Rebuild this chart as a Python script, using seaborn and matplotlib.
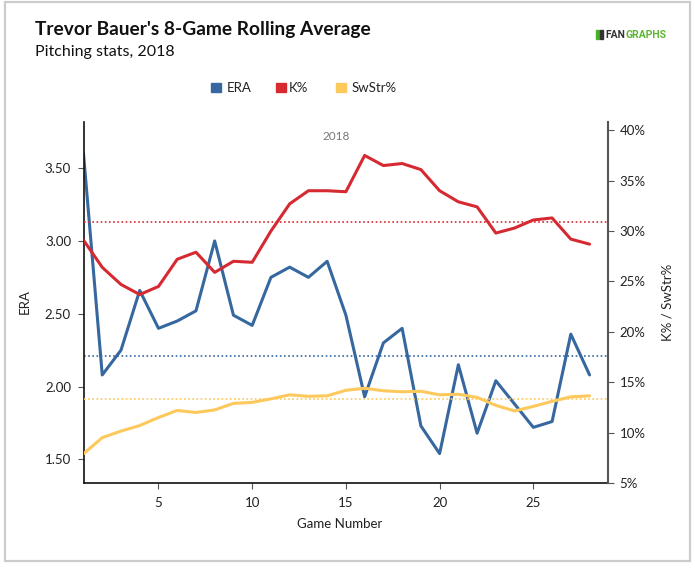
import matplotlib
matplotlib.use("Agg")
import matplotlib.pyplot as plt
import seaborn as sns
import pandas as pd
from matplotlib.patches import Rectangle

games = list(range(1, 29))
era = [3.60, 2.08, 2.25, 2.66, 2.40, 2.45, 2.52, 3.00, 2.49, 2.42,
       2.75, 2.82, 2.75, 2.86, 2.49, 1.93, 2.30, 2.40, 1.73, 1.54,
       2.15, 1.68, 2.04, 1.88, 1.72, 1.76, 2.36, 2.08]
k_pct = [29.1, 26.4, 24.7, 23.7, 24.5, 27.2, 27.9, 25.9, 27.0, 26.9,
         30.0, 32.7, 34.0, 34.0, 33.9, 37.5, 36.5, 36.7, 36.1, 34.0,
         32.9, 32.4, 29.8, 30.3, 31.1, 31.3, 29.2, 28.7]
swstr_pct = [7.9, 9.5, 10.15, 10.7, 11.5, 12.2, 12.0, 12.25, 12.9, 13.0,
             13.35, 13.75, 13.6, 13.65, 14.2, 14.4, 14.15, 14.05, 14.1, 13.75,
             13.8, 13.5, 12.7, 12.15, 12.6, 13.1, 13.55, 13.65]
era_avg = 2.21
k_avg = 30.9
swstr_avg = 13.3
era_ticks = [1.50, 2.00, 2.50, 3.00, 3.50]
pct_ticks = [5, 10, 15, 20, 25, 30, 35, 40]
x_ticks = [5, 10, 15, 20, 25]

BLUE = "#36689f"
RED = "#d62a32"
YEL = "#fdc95c"

sns.set_theme(style="white")
plt.rcParams["font.family"] = ["Lato", "DejaVu Sans"]

df = pd.DataFrame({"game": games, "ERA": era, "K%": k_pct, "SwStr%": swstr_pct})

fig = plt.figure(figsize=(6.95, 5.69), dpi=100)
ax = fig.add_axes([83.5/695, 1-483/569, (608.3-83.5)/695, (483-121.5)/569])
ax2 = ax.twinx()

sns.lineplot(data=df, x="game", y="ERA", ax=ax, color=BLUE, lw=2.2)
sns.lineplot(data=df, x="game", y="K%", ax=ax2, color=RED, lw=2.2)
sns.lineplot(data=df, x="game", y="SwStr%", ax=ax2, color=YEL, lw=2.2)
ax.axhline(era_avg, color=BLUE, ls=(0, (1, 1.5)), lw=1.2)
ax2.axhline(k_avg, color=RED, ls=(0, (1, 1.5)), lw=1.2)
ax2.axhline(swstr_avg, color=YEL, ls=(0, (1, 1.5)), lw=1.2)

ax.set_xlim(1, 29)
ax.set_ylim(1.338, 3.82)
ax2.set_ylim(5, 40.87)
ax.set_xticks(x_ticks)
ax.set_yticks(era_ticks)
ax.set_yticklabels([f"{v:.2f}" for v in era_ticks])
ax2.set_yticks(pct_ticks)
ax2.set_yticklabels([f"{v}%" for v in pct_ticks])
ax.set_xlabel("")
ax.set_ylabel("")
ax2.set_ylabel("")

for a in (ax, ax2):
    a.spines["top"].set_visible(False)
    a.grid(False)
ax.spines["left"].set_color("#111")
ax.spines["bottom"].set_color("#111")
ax.spines["left"].set_linewidth(1.2)
ax.spines["bottom"].set_linewidth(1.2)
ax.spines["right"].set_visible(False)
ax2.spines["left"].set_visible(False)
ax2.spines["bottom"].set_visible(False)
ax2.spines["right"].set_color("#555")
ax2.spines["right"].set_linewidth(1.5)
ax.tick_params(axis="both", direction="out", length=4, width=0.8, color="#555",
               labelsize=9.5, labelcolor="#222", left=True, bottom=True, pad=3)
ax.tick_params(axis="y", pad=5)
ax.tick_params(axis="x", pad=6)
ax2.tick_params(axis="y", direction="out", length=4, width=0.8, color="#555",
                labelsize=9.5, labelcolor="#222", right=True, pad=4)

ax.text(14.5, 3.72, "2018", ha="center", va="center", fontsize=8.5, color="#777")

fig.text(35/695, 1-30/569, "Trevor Bauer's 8-Game Rolling Average", ha="left", va="center",
         fontsize=13.8, fontweight="bold", color="#111")
fig.text(35/695, 1-52/569, "Pitching stats, 2018", ha="left", va="center",
         fontsize=11.5, color="#111")
fig.text(25/695, 1-302/569, "ERA", rotation=90, ha="center", va="center", fontsize=9.5, color="#222")
fig.text(668/695, 1-302/569, "K% / SwStr%", rotation=90, ha="center", va="center", fontsize=9.5, color="#222")
fig.text(340/695, 1-524/569, "Game Number", ha="center", va="center", fontsize=9.5, color="#222")

# legend
leg = [(211, "ERA", BLUE, 227), (276, "K%", RED, 289), (336, "SwStr%", YEL, 352)]
for sx, lab, col, tx in leg:
    fig.patches.append(Rectangle((sx/695, 1-92/569), 10/695, 9/569, transform=fig.transFigure,
                                 color=col, zorder=5))
    fig.text(tx/695, 1-88/569, lab, ha="left", va="center", fontsize=9.5, color="#222")

# logo
fig.patches.append(Rectangle((596/695, 1-39/569), 2.5/695, 9/569, transform=fig.transFigure,
                             color="#4caf2a", zorder=5))
fig.patches.append(Rectangle((600/695, 1-39/569), 2.5/695, 9/569, transform=fig.transFigure,
                             color="#333333", zorder=5))
t_fan = fig.text(605/695, 1-35/569, "FAN", ha="left", va="center", fontsize=7.5, fontweight="bold",
                 color="#333", family=["Roboto", "DejaVu Sans"])
fig.canvas.draw()
bb = t_fan.get_window_extent(renderer=fig.canvas.get_renderer())
x_end = fig.transFigure.inverted().transform((bb.x1 + 0.5, 0))[0]
fig.text(x_end, 1-35/569, "GRAPHS", ha="left", va="center", fontsize=7.5, fontweight="bold",
         color="#5cb531", family=["Roboto", "DejaVu Sans"])

# border
fig.patches.append(Rectangle((5/695, 1-561/569), 685/695, 559/569, transform=fig.transFigure,
                             fill=False, ec="#cccccc", lw=1.6, zorder=0))

fig.savefig("out.png", dpi=100, facecolor="white")
